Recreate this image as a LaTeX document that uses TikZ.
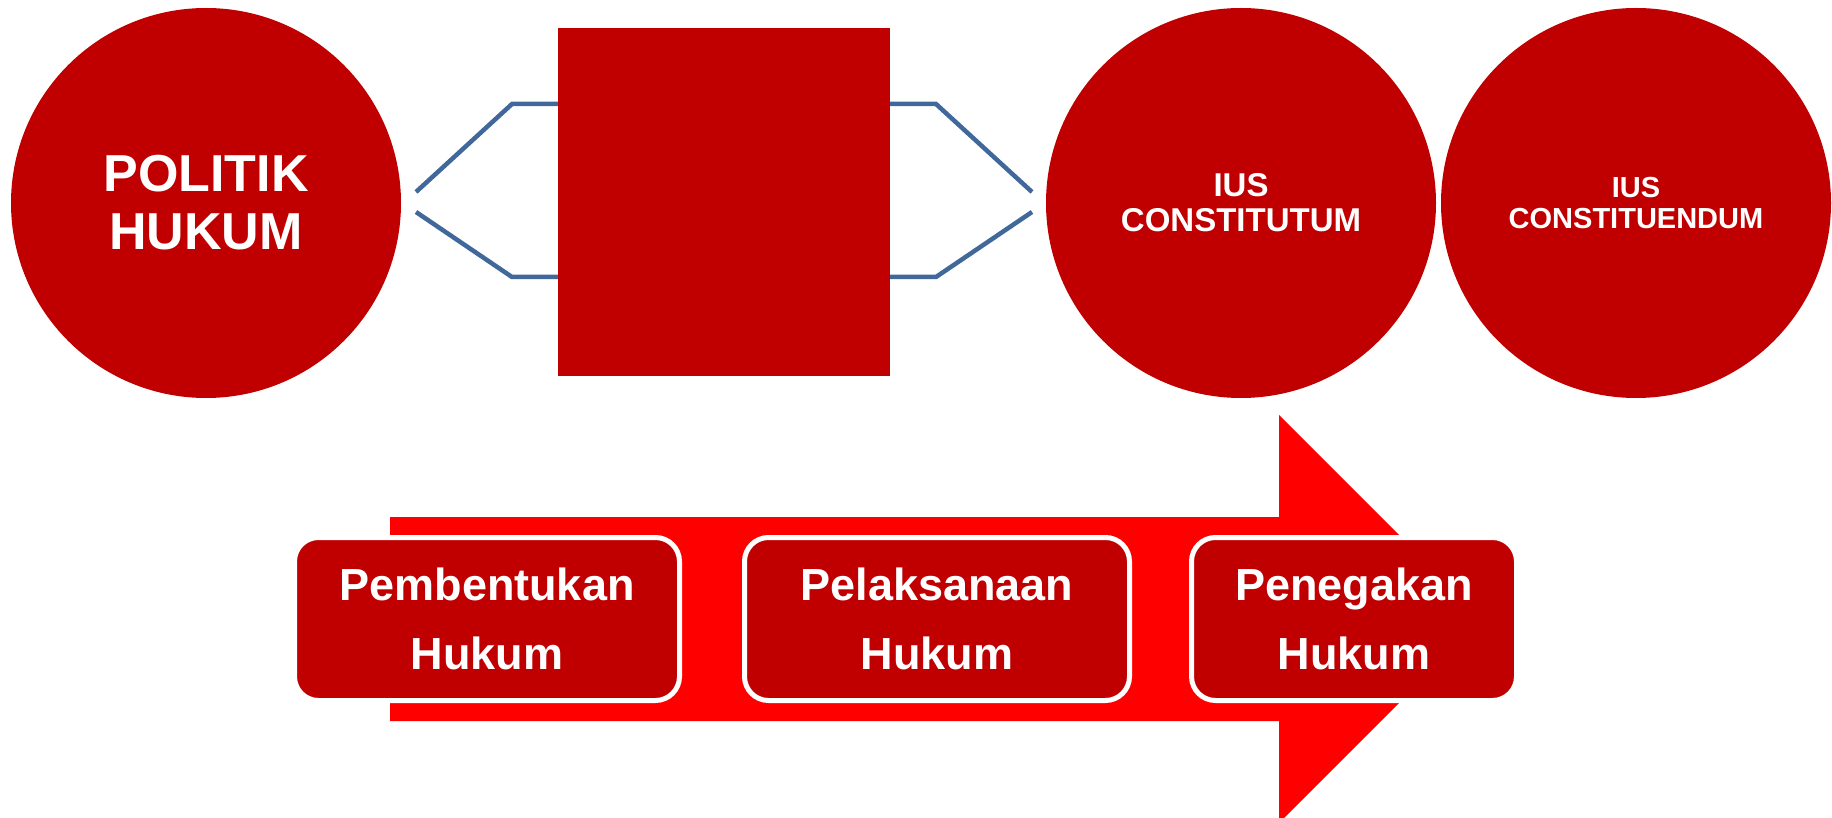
\documentclass[tikz,border=0pt]{standalone}
\usepackage{fontspec}
\setmainfont{Liberation Sans}
\definecolor{darkred}{RGB}{192,0,0}
\definecolor{arrowred}{RGB}{255,0,0}
\definecolor{linkblue}{RGB}{65,104,154}
\begin{document}
\begin{tikzpicture}[x=1pt,y=-1pt,
  circ/.style={circle, fill=darkred, minimum size=390pt, inner sep=0pt, text=white, align=center, font=\bfseries},
  midrect/.style={rectangle, fill=darkred, minimum width=332pt, minimum height=348pt, inner sep=0pt},
  link/.style={draw=linkblue, line width=4.5pt},
  stagebox/.style={rectangle, rounded corners=24pt, fill=darkred, draw=white, line width=5pt,
     minimum height=163pt, inner sep=0pt, text=white, align=center,
     font=\bfseries\fontsize{45}{69}\selectfont}]
\useasboundingbox (0,0) rectangle (1832,818);
% circles
\node[circ, font=\bfseries\fontsize{52}{58}\selectfont] (politik) at (206,203) {POLITIK\\HUKUM};
\node[circ, font=\bfseries\fontsize{33}{35}\selectfont] (constitutum) at (1241,203) {IUS\\CONSTITUTUM};
\node[circ, font=\bfseries\fontsize{29}{31}\selectfont] (constituendum) at (1636,203) {IUS\\CONSTITUENDUM};
% middle rectangle
\node[midrect] (mid) at (724,202.5) {};
% blue bracket links
\coordinate (la) at (416,192);
\coordinate (lab) at (512,104);
\coordinate (lb) at (416,212);
\coordinate (lbb) at (512,277);
\coordinate (ra) at (1032,192);
\coordinate (rab) at (936,104);
\coordinate (rb) at (1032,212);
\coordinate (rbb) at (936,277);
\draw[link] (la) -- (lab) -- (mid.west |- lab);
\draw[link] (lb) -- (lbb) -- (mid.west |- lbb);
\draw[link] (ra) -- (rab) -- (mid.east |- rab);
\draw[link] (rb) -- (rbb) -- (mid.east |- rbb);
% big arrow
\begin{scope}
\clip (0,0) rectangle (1832,818);
\fill[arrowred] (390,517) -- (1279,517) -- (1279,415) -- (1483,619) -- (1279,823) -- (1279,721) -- (390,721) -- cycle;
\end{scope}
% stage boxes
\node[stagebox, minimum width=385pt] (pembentukan) at (487,619) {Pembentukan\\Hukum};
\node[stagebox, minimum width=385pt] (pelaksanaan) at (937,619) {Pelaksanaan\\Hukum};
\node[stagebox, minimum width=325pt] (penegakan) at (1354,619) {Penegakan\\Hukum};
\end{tikzpicture}
\end{document}
